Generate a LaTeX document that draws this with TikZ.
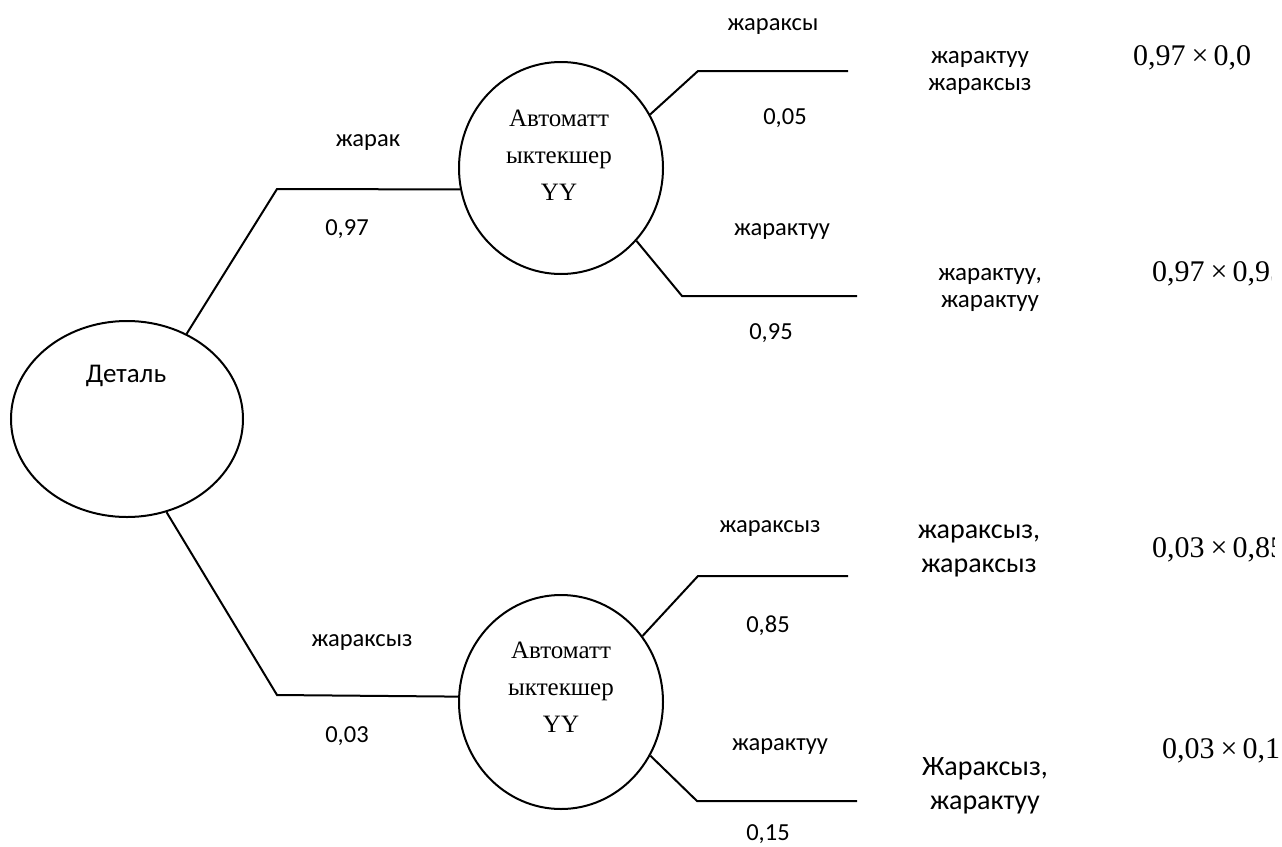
\documentclass[tikz,border=0pt]{standalone}
\usepackage{fontspec}
\setmainfont{Carlito}
\newfontfamily\tms{Liberation Serif}
\usetikzlibrary{shapes.geometric}
\newcommand{\mytimes}{\hspace{0.2em}×\hspace{0.17em}}
\begin{document}
\begin{tikzpicture}[x=1pt,y=-1pt,
  conn/.style={line width=2pt,black},
  oval/.style={draw,line width=2pt,ellipse,inner sep=0pt},
  lbl/.style={font=\fontsize{24.5}{29}\selectfont},
  res/.style={font=\fontsize{25}{27}\selectfont,align=center},
  resbig/.style={font=\fontsize{28}{34}\selectfont,align=center},
  ctext/.style={font=\tms\fontsize{25}{37}\selectfont,align=center},
  frm/.style={font=\tms\fontsize{30}{36}\selectfont,anchor=west,inner sep=0pt}]
\useasboundingbox (0,0) rectangle (1282,846);
% main nodes
\node[oval,minimum width=232pt,minimum height=196pt] (det) at (127,419) {};
\node[font=\fontsize{27}{32}\selectfont] (dett) at (126,376) {Деталь};
\node[oval,minimum width=204pt,minimum height=212pt] (c1) at (561,168) {};
\node[ctext] (c1t) at (559,155) {Автоматт\\ыктекшер\\YY};
\node[oval,minimum width=204pt,minimum height=214pt] (c2) at (561,702) {};
\node[ctext] (c2t) at (561,687) {Автоматт\\ыктекшер\\YY};
% corner coordinates
\coordinate (k1) at (277,189);
\coordinate (k2) at (277,695);
\coordinate (k3) at (698,71);
\coordinate (k4) at (848,71);
\coordinate (k5) at (682,296);
\coordinate (k6) at (857,296);
\coordinate (k7) at (698,576);
\coordinate (k8) at (848,576);
\coordinate (k9) at (697,801);
\coordinate (k10) at (857,801);
% connectors
\draw[conn] (det.55) -- (k1) -- (c1.192);
\draw[conn] (det.-67) -- (k2) -- (c2.177);
\draw[conn] (c1.31) -- (k3) -- (k4);
\draw[conn] (c1.-44) -- (k5) -- (k6);
\draw[conn] (c2.39) -- (k7) -- (k8);
\draw[conn] (c2.-31) -- (k9) -- (k10);
% branch labels
\node[lbl] (l1) at (368,143) {жарак};
\node[lbl] (l2) at (347,229) {0,97};
\node[lbl] (l3) at (362,643) {жараксыз};
\node[lbl] (l4) at (347,736) {0,03};
\node[lbl] (l5) at (773,27) {жараксы};
\node[lbl] (l6) at (785,118) {0,05};
\node[lbl] (l7) at (782,232) {жарактуу};
\node[lbl] (l8) at (771,333) {0,95};
\node[lbl] (l9) at (770,529) {жараксыз};
\node[lbl] (l10) at (768,626) {0,85};
\node[lbl] (l11) at (780,747) {жарактуу};
\node[lbl] (l12) at (768,834) {0,15};
% outcomes
\node[res] (r1) at (980,73) {жарактуу\\жараксыз};
\node[res] (r2) at (990,290) {жарактуу,\\жарактуу};
\node[resbig] (r3) at (979,551) {жараксыз,\\жараксыз};
\node[resbig] (r4) at (985,786) {Жараксыз,\\жарактуу};
% formulas (clipped like the original)
\begin{scope}
\clip (1100,30) rectangle (1249,100);
\node[frm] (f1) at (1133,58) {0,97\mytimes 0,05};
\end{scope}
\begin{scope}
\clip (1100,240) rectangle (1271,310);
\node[frm] (f2) at (1152,274) {0,97\mytimes 0,95};
\end{scope}
\begin{scope}
\clip (1100,515) rectangle (1274,585);
\node[frm] (f3) at (1152,550) {0,03\mytimes 0,85};
\end{scope}
\begin{scope}
\clip (1100,715) rectangle (1280,790);
\node[frm] (f4) at (1162,751) {0,03\mytimes 0,15};
\end{scope}
\end{tikzpicture}
\end{document}
